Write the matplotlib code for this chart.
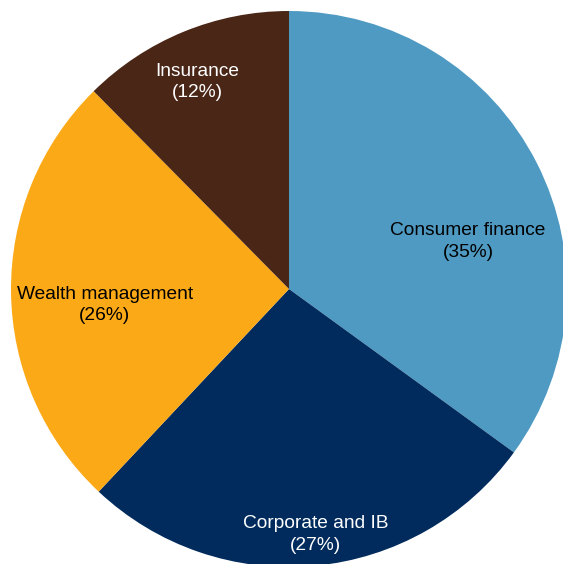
import numpy as np
import matplotlib
matplotlib.use("Agg")
import matplotlib.pyplot as plt
from matplotlib.transforms import offset_copy

categories = ["Consumer finance", "Corporate and IB", "Wealth management", "Insurance"]
shares = [35.0, 27.0, 25.6, 12.4]
colors = ["#4F9AC2", "#002B5C", "#FCA918", "#4A2617"]
text_colors = ["black", "white", "black", "white"]
label_dist = [0.669, 0.88, 0.664, 0.823]
label_angle_offset = [-11.4, 0.9, 3.5, 1.4]

plt.rcParams["font.family"] = ["Liberation Sans", "DejaVu Sans"]

W, H = 563, 564
fig = plt.figure(figsize=(W / 100, H / 100), dpi=100)
ax = fig.add_axes([11 / W, -3 / H, 556 / W, 556 / H])
wedges, _ = ax.pie(shares, colors=colors, startangle=90, counterclock=False,
                   radius=1.0, wedgeprops=dict(linewidth=0))
ax.set_xlim(-1, 1)
ax.set_ylim(-1, 1)
ax.set_aspect("equal")
ax.axis("off")

tr = offset_copy(ax.transData, fig=fig, x=0, y=-2.5, units="dots")
for w, name, s, tc, d, off in zip(wedges, categories, shares, text_colors, label_dist, label_angle_offset):
    mid = np.deg2rad((w.theta1 + w.theta2) / 2 + off)
    ax.text(d * np.cos(mid), d * np.sin(mid), f"{name}\n({s:.0f}%)", ha="center", va="center",
            color=tc, fontsize=13.8, linespacing=1.35, transform=tr)

fig.savefig("out.png", dpi=100)
